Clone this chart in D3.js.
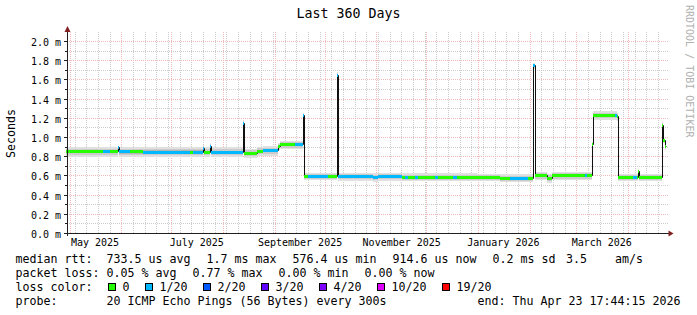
<!DOCTYPE html>
<html>
<head>
<meta charset="utf-8">
<script src="https://cdnjs.cloudflare.com/ajax/libs/d3/7.8.5/d3.min.js"></script>
<style>
  html, body { margin: 0; padding: 0; background: #fff; }
  svg { display: block; }
  text { font-family: "DejaVu Sans Mono", monospace; fill: #000; white-space: pre; }
</style>
</head>
<body>
<svg id="canvas" width="697" height="315"></svg>
<script>
// time frame of the graph
const graphEnd = new Date('2026-04-23T17:44:15Z');
const graphStart = d3.utcDay.offset(graphEnd, -360);

// median rtt steps: start of each step, median (ms), lost pings of 20, half width of the smoke (ms)
const segStart = [
  '2025-04-28T17:44Z', '2025-05-21', '2025-05-25', '2025-05-30', '2025-05-30T14:00Z',
  '2025-06-06', '2025-06-14', '2025-07-12', '2025-07-14', '2025-07-20',
  '2025-07-20T14:00Z', '2025-07-24', '2025-07-24T14:00Z', '2025-08-13', '2025-08-13T14:00Z',
  '2025-08-21', '2025-08-25', '2025-09-03', '2025-09-04', '2025-09-13',
  '2025-09-18', '2025-09-18T14:00Z', '2025-09-21', '2025-10-03', '2025-10-08',
  '2025-10-09', '2025-10-30', '2025-11-02', '2025-11-16', '2025-11-18',
  '2025-11-20', '2025-11-24', '2025-11-26', '2025-12-06', '2025-12-08',
  '2025-12-17', '2025-12-19', '2025-12-31', '2026-01-14', '2026-01-20',
  '2026-01-31', '2026-02-03', '2026-02-04', '2026-02-11', '2026-02-14',
  '2026-03-06', '2026-03-07', '2026-03-10', '2026-03-11', '2026-03-24',
  '2026-03-25', '2026-03-26', '2026-04-04', '2026-04-06', '2026-04-07',
  '2026-04-07T14:00Z', '2026-04-21', '2026-04-22', '2026-04-23'
];
const segMedian = [
  0.852, 0.852, 0.852, 0.895, 0.850,
  0.850, 0.848, 0.848, 0.848, 0.887,
  0.846, 0.910, 0.846, 1.150, 0.835,
  0.856, 0.862, 0.905, 0.922, 0.922,
  1.225, 0.595, 0.595, 0.595, 1.650,
  0.592, 0.583, 0.590, 0.588, 0.588,
  0.588, 0.588, 0.588, 0.588, 0.588,
  0.588, 0.588, 0.585, 0.575, 0.575,
  0.575, 1.745, 0.600, 0.575, 0.600,
  0.600, 0.600, 0.928, 1.228, 1.228,
  1.215, 0.585, 0.585, 0.585, 0.645,
  0.582, 1.130, 0.970, 0.905
];
const segLoss = [
  0, 1, 0, 1, 1,
  0, 1, 0, 1, 1,
  0, 1, 1, 1, 0,
  0, 1, 0, 0, 1,
  1, 0, 1, 0, 1,
  1, 1, 1, 0, 1,
  0, 1, 0, 1, 0,
  1, 0, 0, 0, 1,
  0, 1, 0, 0, 0,
  1, 0, 0, 0, 1,
  0, 0, 1, 0, 0,
  0, 0, 0, 0
];
const segSmoke = [
  0.050, 0.050, 0.050, 0.020, 0.050,
  0.050, 0.050, 0.050, 0.050, 0.030,
  0.050, 0.030, 0.050, 0.030, 0.050,
  0.050, 0.050, 0.040, 0.045, 0.045,
  0.030, 0.040, 0.040, 0.040, 0.030,
  0.040, 0.045, 0.040, 0.040, 0.040,
  0.040, 0.040, 0.040, 0.040, 0.040,
  0.040, 0.040, 0.040, 0.040, 0.040,
  0.040, 0.030, 0.045, 0.045, 0.045,
  0.045, 0.045, 0.030, 0.045, 0.045,
  0.045, 0.040, 0.040, 0.040, 0.020,
  0.040, 0.030, 0.030, 0.030
];

// y axis tick values (ms)
const yMajor = [0, 0.2, 0.4, 0.6, 0.8, 1.0, 1.2, 1.4, 1.6, 1.8, 2.0];
const yMinor = [0.1, 0.3, 0.5, 0.7, 0.9, 1.1, 1.3, 1.5, 1.7, 1.9];

// loss colour legend
const lossLabels = ['0', '1/20', '2/20', '3/20', '4/20', '10/20', '19/20'];
const lossLevels = [0, 1, 2, 3, 4, 10, 19];
const lossColors = ['#26ff00', '#00b8ff', '#0059ff', '#5e00ff', '#7e00ff', '#dd00ff', '#ff0000'];

// legend text items with their left x
const statsLine1 = ['median rtt:  733.5 us avg', '1.7 ms max', '576.4 us min', '914.6 us now', '0.2 ms sd', '3.5    am/s'];
const statsLine1X = [15.5, 206.6, 292.6, 392.6, 492.6, 566];
const statsLine2 = ['packet loss: 0.05 % avg', '0.77 % max', '0.00 % min', '0.00 % now'];
const statsLine2X = [15.5, 192.6, 278.6, 364.4];
const probeLine = ['probe:', '20 ICMP Echo Pings (56 Bytes) every 300s', 'end: Thu Apr 23 17:44:15 2026'];
const probeLineX = [15.5, 106.6, 477.6];

const canvas = d3.select('#canvas');
const charW = 7.0;
const legendFont = (charW / 0.6021).toFixed(2) + 'px';

const x = d3.scaleUtc().domain([graphStart, graphEnd]).range([66.3, 666.3]);
const y = d3.scaleLinear().domain([0, 2.1]).range([233.5, 31.9]);

const px = (t) => Math.round(x(t));
const py = (v) => Math.floor(y(v)) + 0.5;

const toDate = (s) => new Date(s.length === 10 ? s + 'T00:00Z' : s);

const rows = segStart.map((s, i) => ({
  t0: toDate(s),
  t1: i < segStart.length - 1 ? toDate(segStart[i + 1]) : graphEnd,
  med: segMedian[i],
  loss: segLoss[i],
  spread: segSmoke[i]
}));

const colorForLoss = (n) => {
  let idx = lossLevels.findIndex((l) => n <= l);
  if (idx < 0) idx = lossLevels.length - 1;
  return lossColors[idx];
};

// ---- grid ----
const grid = canvas.append('g').attr('shape-rendering', 'crispEdges');
const minorCol = '#cccccc';
const majorCol = '#f1b9b9';

grid.selectAll('.vminor')
  .data(d3.utcSunday.range(graphStart, graphEnd))
  .enter().append('line')
  .attr('x1', (d) => Math.floor(x(d)) + 0.5).attr('x2', (d) => Math.floor(x(d)) + 0.5)
  .attr('y1', 31.5).attr('y2', 233)
  .attr('stroke', minorCol).attr('stroke-dasharray', '1,1');

grid.selectAll('.hminor')
  .data(yMinor)
  .enter().append('line')
  .attr('x1', 67).attr('x2', 668)
  .attr('y1', (d) => py(d)).attr('y2', (d) => py(d))
  .attr('stroke', minorCol).attr('stroke-dasharray', '1,1');

grid.selectAll('.vmajor')
  .data(d3.utcMonth.range(graphStart, graphEnd))
  .enter().append('line')
  .attr('x1', (d) => Math.floor(x(d)) + 0.5).attr('x2', (d) => Math.floor(x(d)) + 0.5)
  .attr('y1', 31.5).attr('y2', 233)
  .attr('stroke', majorCol).attr('stroke-dasharray', '1,1');

grid.selectAll('.hmajor')
  .data(yMajor.filter((d) => d > 0))
  .enter().append('line')
  .attr('x1', 67).attr('x2', 668)
  .attr('y1', (d) => py(d)).attr('y2', (d) => py(d))
  .attr('stroke', majorCol).attr('stroke-dasharray', '1,1');

// ---- smoke ----
const smokeFactors = [1, 0.65, 0.35];
const smokeColors = ['#e0e0e0', '#cbcbcb', '#b4b4b4'];
const smoke = canvas.append('g').attr('shape-rendering', 'crispEdges');
smokeFactors.forEach((f, li) => {
  smoke.selectAll(null)
    .data(rows)
    .enter().append('rect')
    .attr('x', (d) => px(d.t0))
    .attr('width', (d) => Math.max(1, px(d.t1) - px(d.t0)))
    .attr('y', (d) => Math.round(y(d.med + d.spread * f)))
    .attr('height', (d) => Math.round(y(d.med - d.spread * f)) - Math.round(y(d.med + d.spread * f)))
    .attr('fill', smokeColors[li]);
});

// ---- median line ----
const pts = rows.map((d) => [px(d.t0) + 0.5, py(d.med)]);
pts.push([px(graphEnd) + 0.5, py(rows[rows.length - 1].med)]);
canvas.append('path')
  .attr('d', d3.line().curve(d3.curveStepAfter)(pts))
  .attr('fill', 'none')
  .attr('stroke', '#111')
  .attr('stroke-width', 1);

// ---- loss coloured median bars ----
canvas.append('g').attr('shape-rendering', 'crispEdges')
  .selectAll('rect')
  .data(rows)
  .enter().append('rect')
  .attr('x', (d) => px(d.t0))
  .attr('width', (d) => Math.max(1, px(d.t1) - px(d.t0)))
  .attr('y', (d) => Math.floor(y(d.med)) - 1)
  .attr('height', 3)
  .attr('fill', (d) => colorForLoss(d.loss));

// ---- axes ----
const axes = canvas.append('g').attr('shape-rendering', 'crispEdges');
axes.append('line').attr('x1', 67.5).attr('x2', 67.5).attr('y1', 236).attr('y2', 32).attr('stroke', '#1f1f1f');
axes.append('line').attr('x1', 64).attr('x2', 669).attr('y1', 233.5).attr('y2', 233.5).attr('stroke', '#1f1f1f');

axes.selectAll('.ytick')
  .data(yMajor.concat(yMinor))
  .enter().append('line')
  .attr('x1', (d) => yMajor.includes(d) ? 64 : 65).attr('x2', 67)
  .attr('y1', (d) => py(d)).attr('y2', (d) => py(d))
  .attr('stroke', '#1f1f1f');

canvas.append('path').attr('d', 'M67.5,26 L64.5,32 L70.5,32 Z').attr('fill', '#802020');
canvas.append('path').attr('d', 'M673.5,233.5 L668.5,230.5 L668.5,236.5 Z').attr('fill', '#802020');

// y labels
canvas.append('g').selectAll('text')
  .data(yMajor)
  .enter().append('text')
  .attr('x', 61)
  .attr('y', (d) => py(d) + 4)
  .attr('text-anchor', 'end')
  .style('font-size', '10px')
  .text((d) => d.toFixed(1) + ' m');

// x labels (every second month, centred mid-month)
const monthFmt = d3.utcFormat('%B %Y');
canvas.append('g').selectAll('text')
  .data(d3.utcMonth.every(2).range(graphStart, graphEnd))
  .enter().append('text')
  .attr('x', (d) => x(d3.utcDay.offset(d, 15)))
  .attr('y', 245.7)
  .attr('text-anchor', 'middle')
  .style('font-size', '10px')
  .text((d) => monthFmt(d));

// title, unit, watermark
canvas.append('text')
  .attr('x', 348.5).attr('y', 18)
  .attr('text-anchor', 'middle')
  .style('font-size', '13.3px')
  .text('Last 360 Days');

canvas.append('text')
  .attr('transform', 'translate(15,133.5) rotate(-90)')
  .attr('text-anchor', 'middle')
  .style('font-size', legendFont)
  .text('Seconds');

canvas.append('text')
  .attr('transform', 'translate(685.5,5) rotate(90)')
  .style('font-size', '10px')
  .style('fill', '#b0b0b0')
  .text('RRDTOOL / TOBI OETIKER');

// ---- legend ----
const legend = canvas.append('g').style('font-size', legendFont);

const putItems = (items, xs, baseline) => {
  legend.append('g').selectAll('text')
    .data(items)
    .enter().append('text')
    .attr('xml:space', 'preserve')
    .attr('x', (d, i) => xs[i])
    .attr('y', baseline)
    .text((d) => d);
};

putItems(statsLine1, statsLine1X, 262.7);
putItems(statsLine2, statsLine2X, 276.8);
putItems(['loss color:'], [15.5], 290.9);
putItems(probeLine, probeLineX, 305);

// loss colour boxes: box, label, then the next box
let cursor = 108.5;
const lossItems = lossLabels.map((label, i) => {
  const item = { label: label, color: lossColors[i], bx: cursor, tx: cursor + 14.1 };
  cursor = item.tx + label.length * charW + 15.9;
  return item;
});
const lossG = legend.append('g').selectAll('g').data(lossItems).enter().append('g');
lossG.append('rect')
  .attr('x', (d) => d.bx).attr('y', 283.5)
  .attr('width', 7).attr('height', 7)
  .attr('fill', (d) => d.color)
  .attr('stroke', '#000')
  .attr('shape-rendering', 'crispEdges');
lossG.append('text')
  .attr('x', (d) => d.tx).attr('y', 290.9)
  .text((d) => d.label);
</script>
</body>
</html>
